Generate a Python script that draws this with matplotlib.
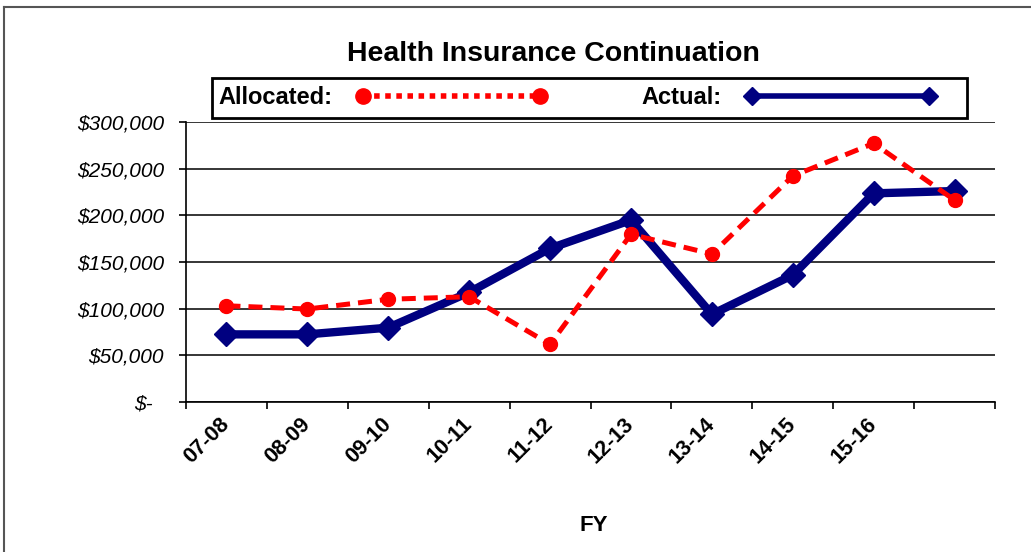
import matplotlib
matplotlib.use("Agg")
import matplotlib.pyplot as plt
from matplotlib.lines import Line2D
from matplotlib.patches import Rectangle

plt.rcParams['font.family'] = ['Liberation Sans', 'DejaVu Sans']

# ---- data ----
categories = ["07-08", "08-09", "09-10", "10-11", "11-12", "12-13", "13-14", "14-15", "15-16", ""]
allocated = [103000, 99500, 110000, 112700, 61600, 179700, 158600, 242300, 277400, 216500]
actual = [72300, 72300, 79500, 117400, 164600, 195000, 93800, 136000, 223700, 226200]
y_ticks = [0, 50000, 100000, 150000, 200000, 250000, 300000]
y_tick_labels = ["$-  ", "$50,000", "$100,000", "$150,000", "$200,000", "$250,000", "$300,000"]
title = "Health Insurance Continuation"
x_label = "FY"

W, H = 1031, 552
fig = plt.figure(figsize=(W / 100, H / 100), dpi=100)
fig.patch.set_facecolor("white")

# outer chart border (top and left visible)
fig.add_artist(Line2D([4 / W, 4 / W], [0, 1 - 7 / H], transform=fig.transFigure,
                      color="#555555", lw=1.5))
fig.add_artist(Line2D([4 / W, 1], [1 - 7 / H, 1 - 7 / H], transform=fig.transFigure,
                      color="#555555", lw=1.5))

left, right = 186 / W, 995 / W
bottom, top = 1 - 401.7 / H, 1 - 122.3 / H
ax = fig.add_axes([left, bottom, right - left, top - bottom])

x = list(range(len(categories)))
ax.plot(x, actual, color="#000080", lw=6, marker="D", ms=12, mec="#000080",
        mfc="#000080", zorder=3)
ax.plot(x, allocated, color="#ff0000", lw=3.6, linestyle=(0, (2.8, 1.6)), marker="o",
        ms=10, mec="#ff0000", mfc="#ff0000", zorder=4)

ax.set_xlim(-0.5, len(categories) - 0.5)
ax.set_ylim(y_ticks[0], y_ticks[-1])

# y axis
ax.set_yticks(y_ticks)
ax.set_yticklabels(y_tick_labels, fontsize=15, fontstyle="italic")
ax.tick_params(axis="y", length=5, width=1.2, pad=11, direction="out")
ax.yaxis.grid(True, color="black", lw=1.1)
ax.set_axisbelow(True)

# x axis: boundary ticks + centered labels
ax.set_xticks([i - 0.5 for i in range(len(categories) + 1)])
ax.set_xticklabels([])
ax.set_xticks(x, minor=True)
ax.set_xticklabels(categories, minor=True, rotation=45, ha="right", va="center",
                   rotation_mode="anchor", fontsize=15.5, fontweight="bold")
ax.tick_params(axis="x", which="major", length=5, width=1.2, direction="out")
ax.tick_params(axis="x", which="minor", length=0, pad=14)

ax.set_xlabel(x_label, fontsize=16, fontweight="bold")
ax.xaxis.set_label_coords((594 - 186) / 809, (401.7 - 515) / 279.4)

for s in ["top", "right"]:
    ax.spines[s].set_visible(False)
for s in ["left", "bottom"]:
    ax.spines[s].set_color("black")
    ax.spines[s].set_linewidth(1.2)

fig.text(553 / W, 1 - 54 / H, title, ha="center", va="center", fontsize=20.5,
         fontweight="bold")

# legend
h_alloc = Line2D([], [], color="#ff0000", lw=4, linestyle=(0, (1, 1)), marker="o",
                 ms=11, mec="#ff0000", mfc="#ff0000")
h_act = Line2D([], [], color="#000080", lw=4, marker="D", ms=9, mec="#000080",
               mfc="#000080")
leg = fig.legend([h_alloc, h_act], ["Allocated:", "Actual:"], loc="center left",
                 bbox_to_anchor=(218 / W, 1 - 98 / H), ncol=2, frameon=False,
                 markerfirst=False, numpoints=2, handlelength=8.1, handletextpad=1.0,
                 columnspacing=4.0, borderpad=0, borderaxespad=0,
                 prop={"size": 17, "weight": "bold"})
fig.add_artist(Rectangle((212 / W, 1 - 118 / H), (967 - 212) / W, 40 / H,
                         transform=fig.transFigure, fill=False, ec="black", lw=2))

fig.savefig("out.png", dpi=100, facecolor="white")
